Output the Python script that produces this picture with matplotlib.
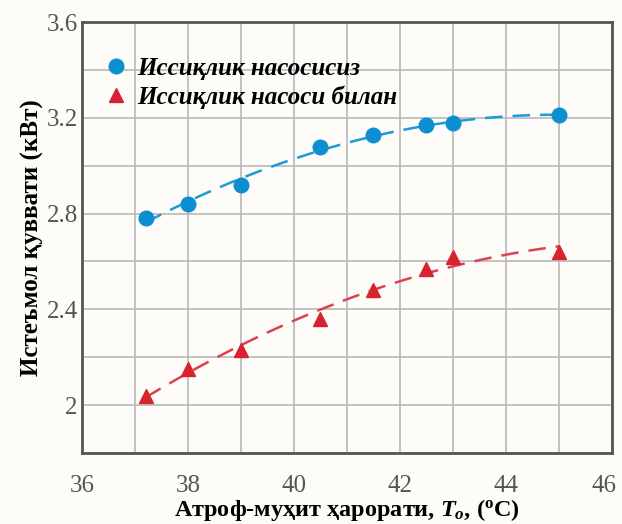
import numpy as np
import matplotlib
matplotlib.use("Agg")
from matplotlib import pyplot as plt
from matplotlib import transforms

plt.rcParams["font.family"] = "serif"
plt.rcParams["font.serif"] = ["Liberation Serif", "DejaVu Serif"]
plt.rcParams["mathtext.fontset"] = "custom"
plt.rcParams["mathtext.it"] = "Liberation Serif:italic:bold"
plt.rcParams["mathtext.rm"] = "Liberation Serif:bold"

# данные
temp_without = [37.2, 38.0, 39.0, 40.5, 41.5, 42.5, 43.0, 45.0]
power_without = [2.78, 2.84, 2.92, 3.08, 3.13, 3.17, 3.18, 3.21]
temp_with = [37.2, 38.0, 39.0, 40.5, 41.5, 42.5, 43.0, 45.0]
power_with = [2.04, 2.15, 2.23, 2.36, 2.48, 2.57, 2.62, 2.64]

label_without = "Иссиқлик насосисиз"
label_with = "Иссиқлик насоси билан"
xticks = [36, 38, 40, 42, 44, 46]
yticks = [2.0, 2.4, 2.8, 3.2, 3.6]
ytick_labels = ["2", "2.4", "2.8", "3.2", "3.6"]

blue = "#0b8fd0"
red = "#d7232f"
FONT = "Liberation Serif"

fig = plt.figure(figsize=(6.22, 5.24), dpi=100, facecolor="#fdfcf8")
ax = fig.add_axes([0.1318, 0.1355, 0.852, 0.8225])
ax.set_facecolor("#fdfcf8")

# линии тренда (квадратичная аппроксимация)
for xs, ys, c in [(temp_without, power_without, "#1f9ad8"), (temp_with, power_with, "#d94350")]:
    p = np.polyfit(xs, ys, 2)
    xx = np.linspace(min(xs), max(xs), 100)
    ax.plot(xx, np.polyval(p, xx), color=c, lw=1.8, dashes=(7, 4), zorder=2)

ax.plot(temp_without, power_without, "o", color=blue, ms=10.5, label=label_without, zorder=3)
ax.plot(temp_with, power_with, "^", color=red, ms=10, label=label_with, zorder=3)

ax.set_xlim(36, 46)
ax.set_ylim(1.8, 3.6)
ax.set_xticks(xticks)
ax.set_xticklabels([str(t) for t in xticks], family=FONT, fontsize=18)
ax.set_xticks(np.arange(36, 47, 1), minor=True)
ax.set_yticks(yticks)
ax.set_yticklabels(ytick_labels, family=FONT, fontsize=18)
ax.set_yticks(np.arange(1.8, 3.61, 0.2), minor=True)
ax.grid(True, which="both", color="#b8b8b8", lw=1.2)
ax.set_axisbelow(True)
ax.tick_params(which="both", length=0, colors="#555555")
ax.tick_params(axis="x", pad=16)
ax.tick_params(axis="y", pad=3)
for s in ax.spines.values():
    s.set_color("#555555")
    s.set_linewidth(2)

# последнюю подпись (46) чуть сдвигаем влево, чтобы не обрезалась
last = ax.get_xticklabels()[-1]
last.set_transform(last.get_transform() +
                   transforms.ScaledTranslation(-6 / 72, 0, fig.dpi_scale_trans))

ax.set_xlabel(r"Атроф-муҳит ҳарорати, $T_{o}$, ($\mathregular{^{o}}$C)",
              fontsize=17.5, fontweight="bold", family=FONT, labelpad=0)
ax.set_ylabel("Истеъмол қуввати (кВт)", fontsize=18, fontweight="bold",
              family=FONT, labelpad=2)

ax.legend(loc="upper left", frameon=False, handletextpad=0.3,
          borderaxespad=0.4, labelspacing=0.2, handlelength=1.1,
          prop={"family": FONT, "size": 18, "style": "italic", "weight": "bold"},
          bbox_to_anchor=(0.0, 0.965))

fig.savefig("out.png", dpi=100, facecolor=fig.get_facecolor())
